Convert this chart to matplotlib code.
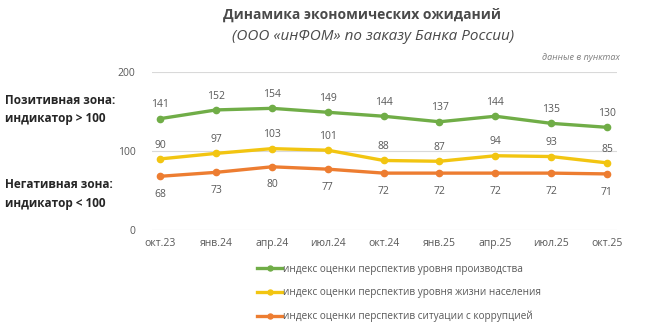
import matplotlib.pyplot as plt

plt.rcParams['font.family'] = ['Open Sans', 'DejaVu Sans']

months = ['окт.23', 'янв.24', 'апр.24', 'июл.24', 'окт.24',
          'янв.25', 'апр.25', 'июл.25', 'окт.25']
production = [141, 152, 154, 149, 144, 137, 144, 135, 130]
living = [90, 97, 103, 101, 88, 87, 94, 93, 85]
corruption = [68, 73, 80, 77, 72, 72, 72, 72, 71]

series = [
    (production, '#70AD47', 'индекс оценки перспектив уровня производства', 6),
    (living, '#F2C511', 'индекс оценки перспектив уровня жизни населения', 6),
    (corruption, '#ED7D31', 'индекс оценки перспектив ситуации с коррупцией', -17),
]

fig = plt.figure(figsize=(6.5, 3.33), dpi=100)
ax = fig.add_axes([152 / 650, 1 - 230 / 333, (617 - 152) / 650, (230 - 72) / 333])

x = list(range(len(months)))
for vals, color, label, off in series:
    ax.plot(x, vals, color=color, lw=2.4, marker='o', ms=4.5, label=label)
    for xi, v in zip(x, vals):
        ax.annotate(str(v), (xi, v), xytext=(0, off), textcoords='offset points',
                    ha='center', va='bottom', fontsize=7.5, color='#595959')

ax.set_ylim(0, 200)
ax.set_xlim(-0.15, 8.18)
ax.set_yticks([0, 100, 200])
ax.set_xticks(x)
ax.set_xticklabels(months)
ax.tick_params(length=0, labelsize=7.5, labelcolor='#595959', pad=6)
ax.tick_params(axis='y', pad=12)
ax.grid(axis='y', color='#D9D9D9', lw=0.8)
ax.set_axisbelow(True)
for s in ax.spines.values():
    s.set_visible(False)

fig.text(362 / 650, 1 - 15 / 333, 'Динамика экономических ожиданий', ha='center', va='center',
         fontsize=10, fontweight='bold', color='#4A4A4A')
fig.text(373 / 650, 1 - 37 / 333, '(ООО «инФОМ» по заказу Банка России)', ha='center', va='center',
         fontsize=11, style='italic', color='#4A4A4A')
fig.text(620 / 650, 1 - 57 / 333, 'данные в пунктах', ha='right', va='center',
         fontsize=6.5, style='italic', color='#7F7F7F')

fig.text(5 / 650, 1 - 109 / 333, 'Позитивная зона:\nиндикатор > 100', ha='left', va='center',
         fontsize=8.5, fontweight='bold', color='#262626', linespacing=1.5)
fig.text(5 / 650, 1 - 194 / 333, 'Негативная зона:\nиндикатор < 100', ha='left', va='center',
         fontsize=8.5, fontweight='bold', color='#262626', linespacing=1.5)

fig.legend(loc='center', bbox_to_anchor=(399 / 650, 1 - 293 / 333), frameon=False,
           fontsize=7.2, labelcolor='#595959', handlelength=2.5, handletextpad=0.1,
           labelspacing=1.25, markerscale=0.8)

fig.savefig('out.png', dpi=100)
